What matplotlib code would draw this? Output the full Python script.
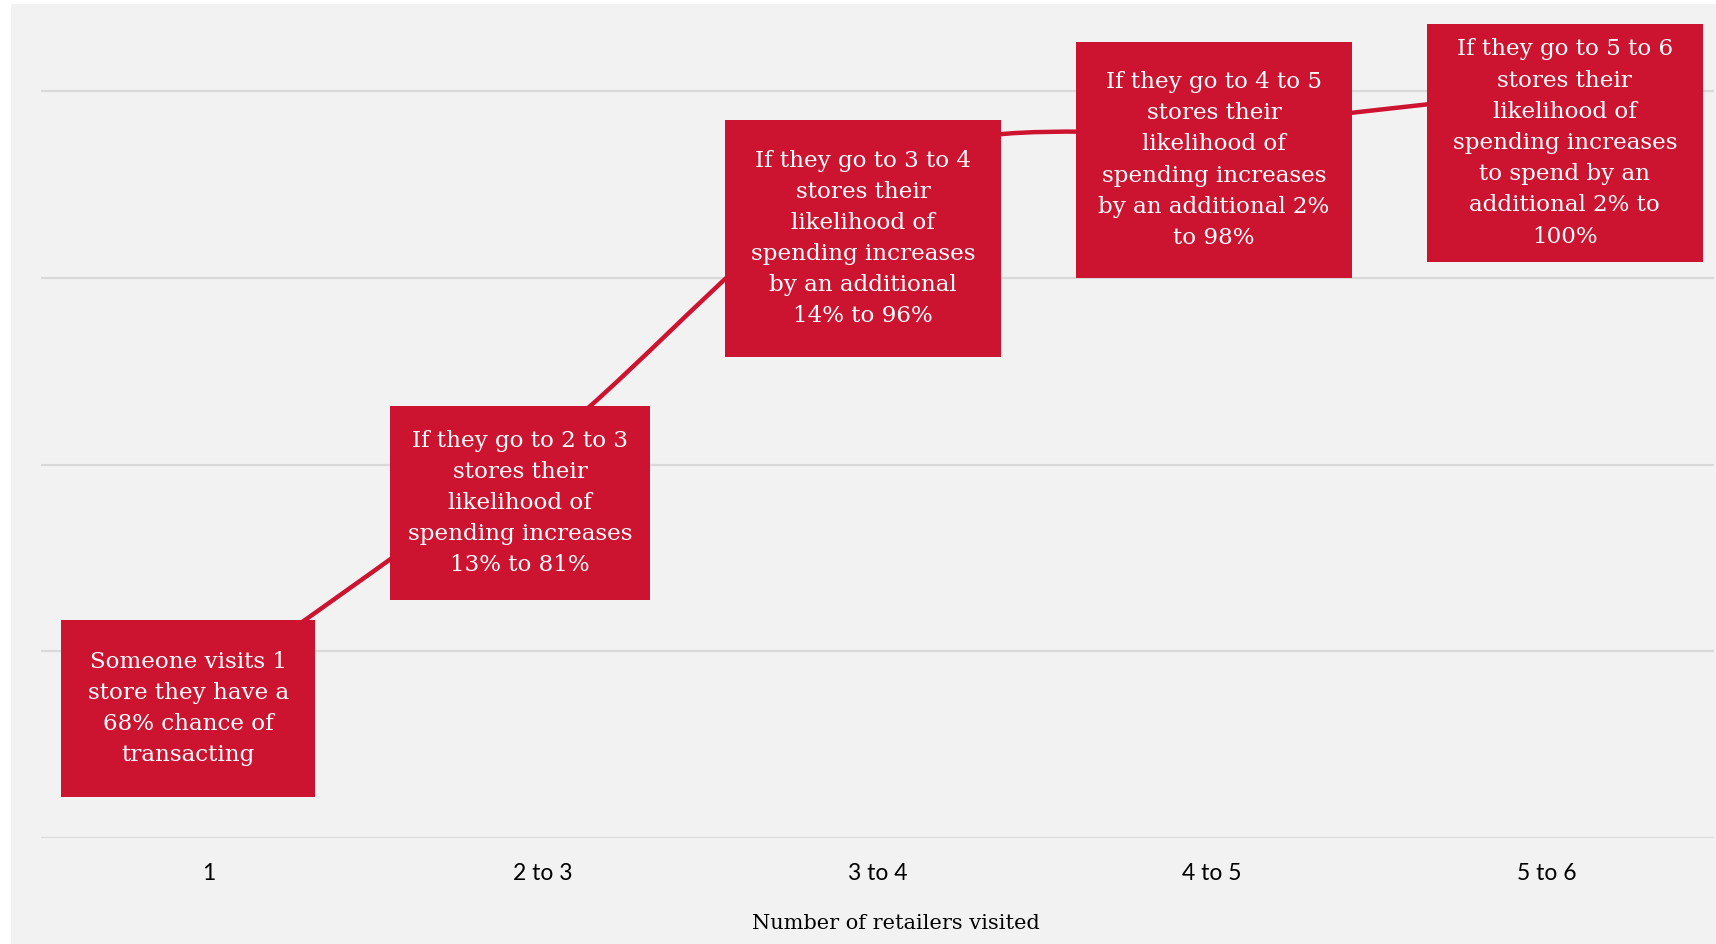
"""
Likelihood of spending vs number of retailers visited.
"""
# Library import ------------------------------------------

import numpy as np
import matplotlib
matplotlib.use('Agg')
import matplotlib.pyplot as plt
from matplotlib.path import Path
from matplotlib.patches import PathPatch, Rectangle

# Data ----------------------------------------------------

categories = ['1', '2 to 3', '3 to 4', '4 to 5', '5 to 6']
likelihood = [68, 81, 96, 98, 100]

notes = [
    'Someone visits 1\nstore they have a\n68% chance of\ntransacting',
    'If they go to 2 to 3\nstores their\nlikelihood of\nspending increases\n13% to 81%',
    'If they go to 3 to 4\nstores their\nlikelihood of\nspending increases\nby an additional\n14% to 96%',
    'If they go to 4 to 5\nstores their\nlikelihood of\nspending increases\nby an additional 2%\nto 98%',
    'If they go to 5 to 6\nstores their\nlikelihood of\nspending increases\nto spend by an\nadditional 2% to\n100%',
]

# box extents (x0, x1, y0, y1) in data units
boxes = [
    (-0.439, 0.320, 62.20, 71.67),
    (0.544, 1.320, 72.74, 83.13),
    (1.544, 2.369, 85.76, 98.45),
    (2.593, 3.418, 89.99, 102.62),
    (3.642, 4.466, 90.84, 103.59),
]

red = '#cc1330'
bg = '#f2f2f2'

# Figure --------------------------------------------------

W, H = 1716, 944
fig = plt.figure(figsize=(W/100, H/100), dpi=100, facecolor='white')
fig.patches.append(Rectangle((11/W, 0), 1 - 11/W, 1 - 4/H, transform=fig.transFigure,
                             facecolor=bg, edgecolor='none', zorder=-10))

ax = fig.add_axes([41/W, 1 - 838/H, 1673/W, 834/H])
ax.set_facecolor('none')
ax.set_xlim(-0.5, 4.5)
ax.set_ylim(60, 104.66)

for s in ax.spines.values():
    s.set_visible(False)
ax.set_yticks([60, 70, 80, 90, 100])
ax.set_yticklabels([])
ax.tick_params(axis='y', length=0)
ax.grid(axis='y', color='#d9d9d9', lw=1.6)
ax.set_axisbelow(True)

ax.set_xticks(range(len(categories)))
ax.set_xticklabels(categories, family='Lato', fontsize=16.5, color='black')
ax.tick_params(axis='x', length=0, pad=18)

ax.set_xlabel('Number of retailers visited', family='DejaVu Serif', fontsize=15, color='black')
ax.xaxis.set_label_coords(0.511, -0.102)
ax.xaxis.label.set_verticalalignment('center')

# smoothed line (bezier through the points) --------------

pts = np.column_stack([np.arange(len(likelihood)), likelihood]).astype(float)
n = len(pts)
verts = [pts[0]]
codes = [Path.MOVETO]
for i in range(n - 1):
    p0 = pts[max(i - 1, 0)]
    p1 = pts[i]
    p2 = pts[i + 1]
    p3 = pts[min(i + 2, n - 1)]
    c1 = p1 + (p2 - p0) / 6
    c2 = p2 - (p3 - p1) / 6
    verts += [c1, c2, p2]
    codes += [Path.CURVE4] * 3
ax.add_patch(PathPatch(Path(verts, codes), facecolor='none', edgecolor=red, lw=3.2, zorder=2))

# boxes ---------------------------------------------------

for (x0, x1, y0, y1), txt in zip(boxes, notes):
    ax.add_patch(Rectangle((x0, y0), x1 - x0, y1 - y0, facecolor=red, edgecolor='none', zorder=3))
    ax.text((x0 + x1) / 2, (y0 + y1) / 2, txt, ha='center', va='center', color='white',
            family='DejaVu Serif', fontsize=16.6, linespacing=1.54, zorder=4)

fig.savefig('out.png', dpi=100, facecolor=fig.get_facecolor())
